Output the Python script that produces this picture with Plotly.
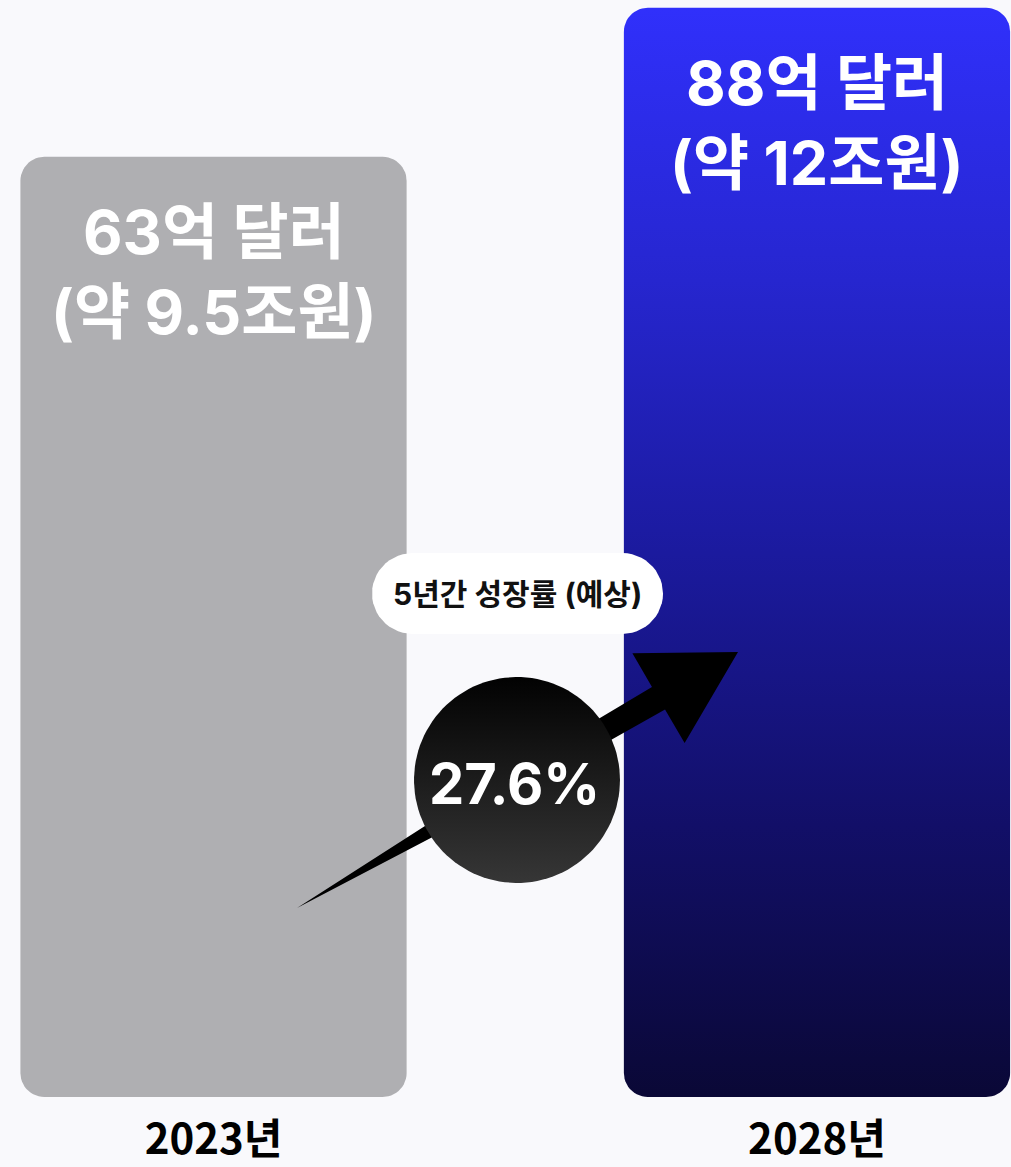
import numpy as np
import plotly.graph_objects as go

# ---------------- data ----------------
years = ["2023년", "2028년"]
market_usd_100m = [63, 88]            # 억 달러
krw_labels = ["(약 9.5조원)", "(약 12조원)"]
growth_rate_pct = 27.6
growth_caption = "5년간 성장률 (예상)"

# ---------------- layout constants ----------------
W, H = 1011, 1167
MB = 70
PH = H - MB
X_RANGE = [-0.3538, 1.3215]
Y_RANGE = [-94.7, 89.3]          # bars are drawn from the axis floor
BAR_W = 0.64
CORNER = 24
BG = "#f9f9fc"
FONT = "Inter, Noto Sans CJK KR, sans-serif"
YEAR_FONT = "Noto Sans CJK KR, sans-serif"

sx = W / (X_RANGE[1] - X_RANGE[0])
sy = PH / (Y_RANGE[1] - Y_RANGE[0])


def px_x(px):
    return X_RANGE[0] + px / sx


def px_y(py):
    return Y_RANGE[1] - py / sy


def rounded_rect(x0, x1, y0, y1, r_px, n=14):
    rx, ry = r_px / sx, r_px / sy
    xs, ys = [], []
    for cx, cy, a0 in [(x1 - rx, y1 - ry, 0), (x0 + rx, y1 - ry, 90),
                       (x0 + rx, y0 + ry, 180), (x1 - rx, y0 + ry, 270)]:
        th = np.radians(np.linspace(a0, a0 + 90, n))
        xs.extend(cx + rx * np.cos(th))
        ys.extend(cy + ry * np.sin(th))
    xs.append(xs[0]); ys.append(ys[0])
    return xs, ys


fig = go.Figure()

# ---------------- bars ----------------
bar_fills = [
    dict(fillcolor="#afafb2"),
    dict(fillgradient=dict(type="vertical",
                           colorscale=[[0.0, "#0a0836"], [0.25, "#120f68"],
                                       [0.5, "#1b1a9e"], [0.75, "#2626cf"],
                                       [1.0, "#3030fb"]])),
]
for i, v in enumerate(market_usd_100m):
    xs, ys = rounded_rect(i - BAR_W / 2, i + BAR_W / 2, Y_RANGE[0], v, CORNER)
    fig.add_trace(go.Scatter(x=xs, y=ys, mode="lines", fill="toself",
                             line=dict(width=0, color="rgba(0,0,0,0)"),
                             hoverinfo="skip", showlegend=False, **bar_fills[i]))

# ---------------- arrow ----------------
T = np.array([297.0, 908.0])
TIP = np.array([738.0, 652.0])
L = np.linalg.norm(TIP - T)
u = (TIP - T) / L
nrm = np.array([-u[1], u[0]])
prof = [(0, 0), (250, 11), (418, 13), (418, 52)]
side_a = [T + t * u + h * nrm for t, h in prof]
side_b = [T + t * u - h * nrm for t, h in prof[::-1]]
pts = side_a + [TIP] + side_b + [T]
fig.add_trace(go.Scatter(x=[px_x(p[0]) for p in pts], y=[px_y(p[1]) for p in pts],
                         mode="lines", fill="toself", fillcolor="#000000",
                         line=dict(width=0, color="rgba(0,0,0,0)"),
                         hoverinfo="skip", showlegend=False))

# ---------------- circle ----------------
CX, CY, R = 517, 780, 103
th = np.linspace(0, 2 * np.pi, 120)
fig.add_trace(go.Scatter(x=px_x(CX + R * np.cos(th)), y=px_y(CY + R * np.sin(th)),
                         mode="lines", fill="toself",
                         fillgradient=dict(type="vertical",
                                           colorscale=[[0, "#363636"], [1, "#020202"]]),
                         line=dict(width=0, color="rgba(0,0,0,0)"),
                         hoverinfo="skip", showlegend=False))

# ---------------- pill ----------------
PX0, PX1, PY0, PY1 = 372, 663, 553, 634
xs, ys = rounded_rect(px_x(PX0), px_x(PX1), px_y(PY1), px_y(PY0), (PY1 - PY0) / 2)
fig.add_trace(go.Scatter(x=xs, y=ys, mode="lines", fill="toself", fillcolor="#ffffff",
                         line=dict(width=0, color="rgba(0,0,0,0)"),
                         hoverinfo="skip", showlegend=False))

# ---------------- annotations ----------------
for i, v in enumerate(market_usd_100m):
    fig.add_annotation(x=i, y=v, xref="x", yref="y", text=f"{v}억 달러",
                       showarrow=False, yanchor="middle", yshift=-75,
                       font=dict(family=FONT, size=61, color="white", weight="bold"))
    fig.add_annotation(x=i, y=v, xref="x", yref="y", text=krw_labels[i],
                       showarrow=False, yanchor="middle", yshift=-155,
                       font=dict(family=FONT, size=61, color="white", weight="bold"))

fig.add_annotation(x=px_x(CX - 3), y=px_y(CY + 4), text=f"{growth_rate_pct}%",
                   showarrow=False, xanchor="center", yanchor="middle",
                   font=dict(family=FONT, size=56, color="white", weight="bold"))
fig.add_annotation(x=px_x((PX0 + PX1) / 2), y=px_y((PY0 + PY1) / 2), text=growth_caption,
                   showarrow=False, xanchor="center", yanchor="middle",
                   font=dict(family=FONT, size=30, color="#111111", weight="bold"))

fig.update_layout(
    width=W, height=H,
    margin=dict(l=0, r=0, t=0, b=MB),
    paper_bgcolor=BG, plot_bgcolor=BG,
    showlegend=False,
    xaxis=dict(range=X_RANGE, showgrid=False, zeroline=False, showline=False,
               tickmode="array", tickvals=list(range(len(years))), ticktext=years,
               ticks="", ticklabelstandoff=14,
               tickfont=dict(family=YEAR_FONT, size=42,
                             color="#000000", weight="bold"),
               fixedrange=True),
    yaxis=dict(range=Y_RANGE, showgrid=False, zeroline=False, showline=False,
               showticklabels=False, fixedrange=True),
)

fig.write_html("out.html")
